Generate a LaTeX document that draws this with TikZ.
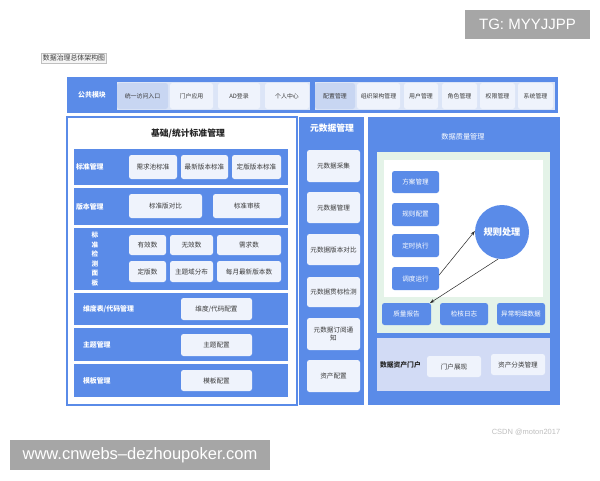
\documentclass[tikz,border=0pt]{standalone}
\usepackage{fontspec}
\newfontfamily\cjk{Noto Sans CJK SC}
\newfontfamily\wm{Liberation Sans}
\usetikzlibrary{arrows.meta}
\definecolor{mblue}{HTML}{5A8BE8}
\definecolor{lcell}{HTML}{EFF3FC}
\definecolor{dcell}{HTML}{C8D6F2}
\definecolor{strip}{HTML}{DCE5F7}
\definecolor{mint}{HTML}{E4F3E8}
\definecolor{lav}{HTML}{D2DBF5}
\definecolor{tgray}{HTML}{3A3A3A}
\definecolor{wmgray}{HTML}{A6A6A6}
\tikzset{
  box/.style={inner sep=0pt, outer sep=0pt},
  blk/.style={box, fill=mblue},
  cell/.style={box, fill=lcell, rounded corners=2.5pt, text=tgray, align=center,
    font=\cjk\fontsize{6.6}{8.2}\selectfont},
  topcell/.style={cell, minimum height=26pt, font=\cjk\fontsize{5.9}{7}\selectfont},
  bcell/.style={box, fill=mblue, rounded corners=2.5pt, text=white, align=center,
    font=\cjk\fontsize{6.6}{8}\selectfont},
  lbl/.style={box, text=white, font=\cjk\bfseries\fontsize{6.9}{8}\selectfont},
  arr/.style={-{Stealth[length=4.5pt,width=3.2pt]}, line width=0.5pt, black!85},
}
\begin{document}
\begin{tikzpicture}[x=1pt,y=-1pt]
\useasboundingbox (0,0) rectangle (600,480);
\fill[white] (0,0) rectangle (600,480);

% title
\node[box, draw=black!25, fill=black!4, inner xsep=1.5pt, minimum height=10pt, text=tgray,
  font=\cjk\fontsize{6.9}{7}\selectfont] (title) at (74,58) {数据治理总体架构图};

% top bar
\node[blk, minimum width=491pt, minimum height=36pt] (bar) at (312.5,95) {};
\node[box, fill=strip, minimum width=193pt, minimum height=28pt] (s1) at (213.5,96) {};
\node[box, fill=strip, minimum width=240pt, minimum height=28pt] (s2) at (435,96) {};
\node[lbl] (ggmk) at (92,95) {公共模块};
\node[topcell, fill=dcell, minimum width=51pt] (t1) at (142.5,96) {统一访问入口};
\node[topcell, minimum width=43pt] (t2) at (191.5,96) {门户应用};
\node[topcell, minimum width=42pt] (t3) at (239,96) {AD登录};
\node[topcell, minimum width=44pt] (t4) at (287,96) {个人中心};
\node[topcell, fill=dcell, minimum width=40pt] (t5) at (335,96) {配置管理};
\node[topcell, minimum width=43pt] (t6) at (378.5,96) {组织架构管理};
\node[topcell, minimum width=34pt] (t7) at (421,96) {用户管理};
\node[topcell, minimum width=35pt] (t8) at (459.5,96) {角色管理};
\node[topcell, minimum width=35pt] (t9) at (497.5,96) {权限管理};
\node[topcell, minimum width=35pt] (t10) at (535.5,96) {系统管理};

% left panel
\node[box, draw=mblue, line width=1.2pt, fill=white, minimum width=230pt, minimum height=288pt] (lp) at (182,261) {};
\node[box, text=black!85, font=\cjk\bfseries\fontsize{8.8}{10}\selectfont] (lpt) at (188,133) {基础/统计标准管理};

\node[blk, minimum width=214pt, minimum height=36pt] (r1) at (181,167) {};
\node[blk, minimum width=214pt, minimum height=37pt] (r2) at (181,206.5) {};
\node[blk, minimum width=214pt, minimum height=62pt] (r3) at (181,259) {};
\node[blk, minimum width=214pt, minimum height=32pt] (r4) at (181,309) {};
\node[blk, minimum width=214pt, minimum height=33pt] (r5) at (181,344.5) {};
\node[blk, minimum width=214pt, minimum height=33pt] (r6) at (181,380.5) {};

\node[lbl, anchor=west] (l1) at (76,167) {标准管理};
\node[lbl, anchor=west] (l2) at (76,206.5) {版本管理};
\node[lbl, align=center, font=\cjk\bfseries\fontsize{6.6}{9.6}\selectfont] (l3) at (95,259) {标\\准\\检\\测\\面\\板};
\node[lbl, anchor=west] (l4) at (83,309) {维度表/代码管理};
\node[lbl, anchor=west] (l5) at (83,344.5) {主题管理};
\node[lbl, anchor=west] (l6) at (83,380.5) {模板管理};

\node[cell, minimum width=48pt, minimum height=24pt] (c11) at (153,167) {需求池标准};
\node[cell, minimum width=47pt, minimum height=24pt] (c12) at (204.5,167) {最新版本标准};
\node[cell, minimum width=49pt, minimum height=24pt] (c13) at (256.5,167) {定版版本标准};
\node[cell, minimum width=73pt, minimum height=24pt] (c21) at (165.5,206) {标准版对比};
\node[cell, minimum width=68pt, minimum height=24pt] (c22) at (247,206) {标准审核};
\node[cell, minimum width=37pt, minimum height=20pt] (c31) at (147.5,245) {有效数};
\node[cell, minimum width=43pt, minimum height=20pt] (c32) at (191.5,245) {无效数};
\node[cell, minimum width=64pt, minimum height=20pt] (c33) at (249,245) {需求数};
\node[cell, minimum width=37pt, minimum height=21pt] (c34) at (147.5,271.5) {定版数};
\node[cell, minimum width=43pt, minimum height=21pt] (c35) at (191.5,271.5) {主题域分布};
\node[cell, minimum width=64pt, minimum height=21pt] (c36) at (249,271.5) {每月最新版本数};
\node[cell, minimum width=71pt, minimum height=22pt] (c41) at (216.5,309) {维度/代码配置};
\node[cell, minimum width=71pt, minimum height=22pt] (c51) at (216.5,345) {主题配置};
\node[cell, minimum width=71pt, minimum height=21pt] (c61) at (216.5,380.5) {模板配置};

% middle column
\node[blk, minimum width=65pt, minimum height=288pt] (mp) at (331.5,261) {};
\node[lbl, font=\cjk\bfseries\fontsize{8.8}{10}\selectfont] (mpt) at (332,128) {元数据管理};
\node[cell, minimum width=53pt, minimum height=32pt] (m1) at (333.5,166) {元数据采集};
\node[cell, minimum width=53pt, minimum height=31pt] (m2) at (333.5,207.5) {元数据管理};
\node[cell, minimum width=53pt, minimum height=31pt] (m3) at (333.5,249.5) {元数据版本对比};
\node[cell, minimum width=53pt, minimum height=30pt] (m4) at (333.5,292) {元数据贯标检测};
\node[cell, minimum width=53pt, minimum height=32pt] (m5) at (333.5,334) {元数据订阅通\\知};
\node[cell, minimum width=53pt, minimum height=32pt] (m6) at (333.5,376) {资产配置};

% right panel
\node[blk, minimum width=192pt, minimum height=288pt] (rp) at (464,261) {};
\node[lbl, font=\cjk\fontsize{7.2}{8}\selectfont] (rpt) at (463,137) {数据质量管理};
\node[box, fill=mint, minimum width=173pt, minimum height=181pt] (green) at (463.5,242.5) {};
\node[box, fill=white, minimum width=159pt, minimum height=137pt] (wh) at (463.5,228.5) {};

\node[bcell, minimum width=47pt, minimum height=22pt] (q1) at (415.5,182) {方案管理};
\node[bcell, minimum width=47pt, minimum height=23pt] (q2) at (415.5,214.5) {规则配置};
\node[bcell, minimum width=47pt, minimum height=23pt] (q3) at (415.5,245.5) {定时执行};
\node[bcell, minimum width=47pt, minimum height=23pt] (q4) at (415.5,278.5) {调度运行};
\node[circle, fill=mblue, minimum size=54pt, inner sep=0pt, text=white,
  font=\cjk\bfseries\fontsize{9.2}{10}\selectfont] (gz) at (502,232) {规则处理};
\node[bcell, minimum width=49pt, minimum height=22pt] (b1) at (406.5,314) {质量报告};
\node[bcell, minimum width=48pt, minimum height=22pt] (b2) at (464,314) {检核日志};
\node[bcell, minimum width=48pt, minimum height=22pt] (b3) at (521,314) {异常明细数据};

\draw[arr] (q4.8) -- (gz.178);
\draw[arr] (gz.262) -- ([xshift=-1pt]b1.north east);

\node[box, fill=lav, minimum width=173pt, minimum height=53pt] (portal) at (463.5,364.5) {};
\node[box, anchor=west, text=black!85, font=\cjk\bfseries\fontsize{6.8}{8}\selectfont] (pl) at (380,365) {数据资产门户};
\node[cell, minimum width=54pt, minimum height=21pt] (p1) at (454,366.5) {门户展现};
\node[cell, minimum width=54pt, minimum height=21pt] (p2) at (518,364.5) {资产分类管理};

% watermarks
\node[box, fill=wmgray, minimum width=125pt, minimum height=29pt, text=white,
  font=\wm\fontsize{15}{16}\selectfont] (tg) at (527.5,24.5) {TG: MYYJJPP};
\node[box, fill=wmgray, minimum width=260pt, minimum height=30pt, text=white,
  font=\wm\fontsize{16.5}{18}\selectfont] (www) at (140,455) {www.cnwebs{\textendash}dezhoupoker.com};
\node[box, text=black!25, font=\wm\fontsize{7.5}{9}\selectfont] (csdn) at (526,432) {CSDN @moton2017};
\end{tikzpicture}
\end{document}
